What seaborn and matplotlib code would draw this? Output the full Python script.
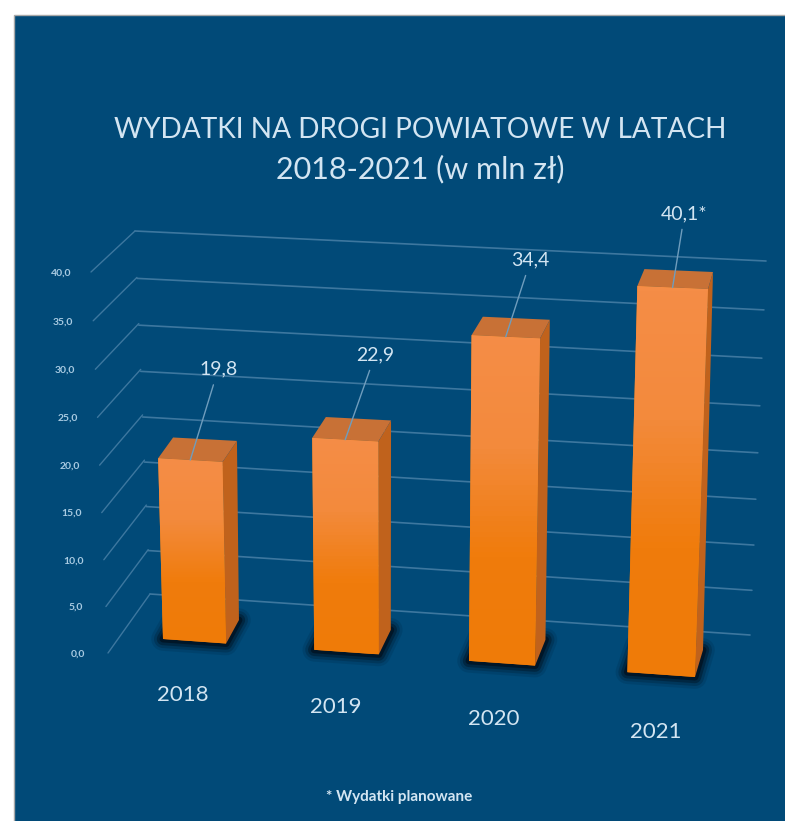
import numpy as np
import seaborn as sns
import matplotlib
matplotlib.use("Agg")
import matplotlib.pyplot as plt
from matplotlib.colors import LinearSegmentedColormap
from matplotlib.patches import Polygon, Rectangle
from matplotlib.transforms import Transform, IdentityTransform

# data
years = ["2018", "2019", "2020", "2021"]
spending = [19.8, 22.9, 34.4, 40.1]
value_labels = ["19,8", "22,9", "34,4", "40,1*"]
grid_values = [0, 5, 10, 15, 20, 25, 30, 35, 40]
grid_labels = ["0,0", "5,0", "10,0", "15,0", "20,0", "25,0", "30,0", "35,0", "40,0"]

W, H = 785, 821
BG = "#014a78"
TEXT = "#d3e5f2"
GRID = "#3d779f"
BAR_WIDTH = 0.42
U_L, U_R = -BAR_WIDTH / 2, 3 + BAR_WIDTH / 2


class PlaneTransform(Transform):
    """Homography from a chart plane to display pixels, fitted on 4 anchors."""
    input_dims = 2
    output_dims = 2
    is_separable = False

    def __init__(self, src, dst):
        super().__init__()
        rows, rhs = [], []
        for (a, b), (px, py) in zip(src, dst):
            py = H - py  # anchors are read with y going down
            rows.append([a, b, 1, 0, 0, 0, -a * px, -b * px])
            rows.append([0, 0, 0, a, b, 1, -a * py, -b * py])
            rhs += [px, py]
        self.m = np.append(np.linalg.solve(np.array(rows, float), np.array(rhs, float)), 1).reshape(3, 3)

    def transform_non_affine(self, values):
        pts = np.column_stack([values, np.ones(len(values))]) @ self.m.T
        return pts[:, :2] / pts[:, 2:]


corners = [(U_L, 0), (U_R, 0), (U_L, 40.1), (U_R, 40.1)]
front = PlaneTransform(corners, [(163, 639), (695, 677), (153, 265), (708, 289)])
bar_back = PlaneTransform(corners, [(176, 616), (703, 650), (170, 249), (713, 272)])
back_wall = PlaneTransform([(0, 0), (1, 0), (0, 40), (1, 40)],
                           [(150, 594), (750, 635), (135, 231), (766, 261)])
side_wall = PlaneTransform([(0, 0), (1, 0), (0, 40), (1, 40)],
                           [(108, 653), (150, 594), (91, 272), (135, 231)])

sns.set_theme(style="white")
plt.rcParams["font.family"] = ["Lato", "DejaVu Sans"]

fig = plt.figure(figsize=(W / 100, H / 100), dpi=100, facecolor="white")
ax = fig.add_axes([0, 0, 1, 1])
ax.axis("off")

fig.patches.append(Rectangle((14, H - 15), W, -H, transform=IdentityTransform(), zorder=-1,
                             facecolor=BG, edgecolor="#a8a8a8", linewidth=1.0, figure=fig))

sns.barplot(x=years, y=spending, width=BAR_WIDTH, color="#f07d0e", saturation=1, ax=ax, zorder=5)

# walls
for v in grid_values:
    ax.plot([0, 1], [v, v], color=GRID, lw=1.2, transform=back_wall, zorder=1, clip_on=False)
    ax.plot([0, 1], [v, v], color=GRID, lw=1.0, transform=side_wall, zorder=1, clip_on=False)

cmap = LinearSegmentedColormap.from_list("front", ["#f58d47", "#f38a3c", "#f07c0c", "#ef7b08"])

for bar in list(ax.patches):
    l, r, h = bar.get_x(), bar.get_x() + bar.get_width(), bar.get_height()
    bar.set_transform(front)
    bar.set_clip_on(False)
    bar.set_linewidth(0)

    f = lambda u, v: front.transform(np.array([[u, v]]))[0]
    b = lambda u, v: bar_back.transform(np.array([[u, v]]))[0]

    # floor shadow
    floor = [f(l, 0), f(r, 0), b(r, 0), b(l, 0)]
    for lw, alpha in [(17, 0.12), (13, 0.22), (9, 0.4), (5, 0.7)]:
        ax.add_patch(Polygon(floor, closed=True, transform=IdentityTransform(), facecolor="#00101e",
                             edgecolor="#00101e", lw=lw, alpha=alpha, zorder=2, clip_on=False, joinstyle="round"))

    ax.add_patch(Polygon([f(r, 0), f(r, h), b(r, h), b(r, 0)], closed=True, transform=IdentityTransform(),
                         facecolor="#c0621c", edgecolor="none", zorder=3, clip_on=False))
    ax.add_patch(Polygon([f(l, h), f(r, h), b(r, h), b(l, h)], closed=True, transform=IdentityTransform(),
                         facecolor="#c87136", edgecolor="none", zorder=4, clip_on=False))

    # vertical gradient on the front face, clipped to the seaborn bar
    corners_px = np.array([f(l, 0), f(r, 0), f(l, h), f(r, h)])
    img = ax.imshow(np.linspace(0, 1, 64).reshape(-1, 1), cmap=cmap, aspect="auto", zorder=6,
                    extent=(corners_px[:, 0].min(), corners_px[:, 0].max(),
                            corners_px[:, 1].min(), corners_px[:, 1].max()),
                    origin="upper", transform=IdentityTransform())
    # a Rectangle would clip to its bounding box, so pass the path instead
    img.set_clip_path(bar.get_path(), bar.get_transform())

# value labels with leader lines
label_offsets = [(28, 91), (30, 85), (25, 77), (12, 74)]
for i, (val, txt) in enumerate(zip(spending, value_labels)):
    ax.annotate(txt, xy=(i, val), xycoords=front, xytext=label_offsets[i], textcoords="offset pixels",
                color=TEXT, fontsize=14, ha="center", va="center", zorder=8,
                arrowprops=dict(arrowstyle="-", color="#6f9dbd", lw=1.0, shrinkA=3, shrinkB=0))

# category labels under the floor
year_offsets = [(-12, -54), (-11, -55), (-8, -56), (-5, -57)]
for i, year in enumerate(years):
    ax.annotate(year, xy=(i, 0), xycoords=front, xytext=year_offsets[i], textcoords="offset pixels",
                color=TEXT, fontsize=16, ha="center", va="center", zorder=8)

# value axis labels
for v, txt in zip(grid_values, grid_labels):
    ax.annotate(txt, xy=(0, v), xycoords=side_wall, xytext=(-30, -1), textcoords="offset pixels",
                color="#a9cbe2", fontsize=7.5, fontweight="bold", ha="center", va="center", zorder=8)

fig.text(420 / W, 1 - 130 / H, "WYDATKI NA DROGI POWIATOWE W LATACH", color=TEXT, fontsize=20.2,
         ha="center", va="center")
fig.text(420 / W, 1 - 169 / H, "2018-2021 (w mln zł)", color=TEXT, fontsize=22, ha="center", va="center")
fig.text(399 / W, 1 - 797 / H, "* Wydatki planowane", color=TEXT, fontsize=11, fontweight="bold",
         ha="center", va="center")

ax.set_xlim(0, W)
ax.set_ylim(0, H)
fig.savefig("out.png", dpi=100, facecolor="white")
